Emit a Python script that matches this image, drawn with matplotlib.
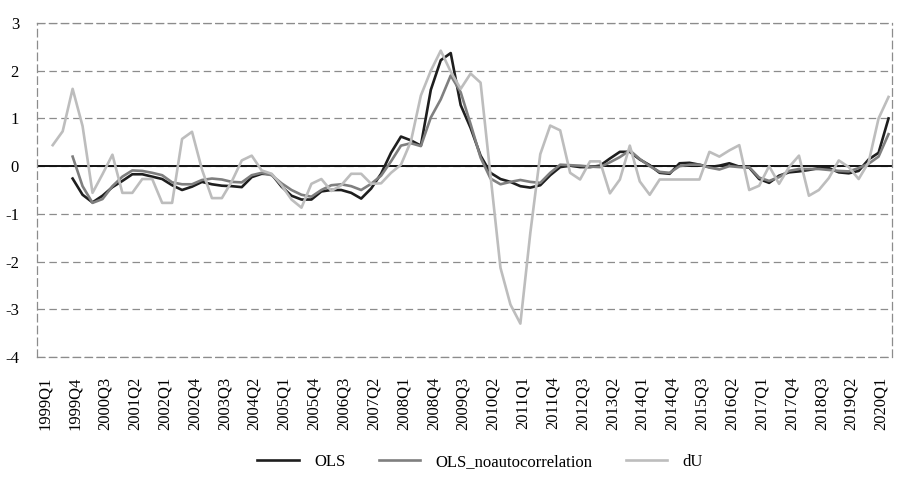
import numpy as np
import matplotlib
matplotlib.use("Agg")
import matplotlib.pyplot as plt
from matplotlib.transforms import ScaledTranslation

plt.rcParams['font.family'] = ['Liberation Serif', 'DejaVu Serif']
plt.rcParams['axes.unicode_minus'] = False

# quarters 1999Q1 .. 2020Q1
quarters = [f"{y}Q{q}" for y in range(1999, 2021) for q in range(1, 5)][:85]

ols = [np.nan, np.nan, -0.26, -0.60, -0.76, -0.62, -0.44, -0.31, -0.17, -0.17,
       -0.22, -0.27, -0.40, -0.50, -0.43, -0.33, -0.38, -0.41, -0.42, -0.44,
       -0.23, -0.16, -0.17, -0.43, -0.62, -0.70, -0.70, -0.53, -0.50, -0.50,
       -0.56, -0.68, -0.47, -0.16, 0.28, 0.62, 0.54, 0.43, 1.60, 2.22,
       2.37, 1.28, 0.80, 0.22, -0.14, -0.27, -0.33, -0.42, -0.45, -0.40,
       -0.19, -0.02, 0.01, -0.02, -0.02, 0.01, 0.16, 0.30, 0.30, 0.14,
       0.02, -0.14, -0.16, 0.06, 0.07, 0.03, -0.02, 0.01, 0.06, -0.01,
       -0.03, -0.27, -0.35, -0.20, -0.13, -0.11, -0.08, -0.04, -0.04, -0.13,
       -0.15, -0.10, 0.14, 0.28, 1.00]

ols_noac = [np.nan, np.nan, 0.20, -0.42, -0.77, -0.69, -0.42, -0.22, -0.09, -0.10,
            -0.14, -0.19, -0.34, -0.38, -0.38, -0.29, -0.26, -0.28, -0.33, -0.34,
            -0.19, -0.14, -0.19, -0.36, -0.50, -0.60, -0.64, -0.50, -0.40, -0.38,
            -0.42, -0.50, -0.37, -0.20, 0.10, 0.43, 0.48, 0.42, 1.02, 1.40,
            1.90, 1.55, 0.88, 0.18, -0.26, -0.38, -0.33, -0.29, -0.33, -0.35,
            -0.14, 0.03, 0.02, 0.01, -0.01, -0.02, 0.08, 0.19, 0.33, 0.15,
            0.00, -0.12, -0.14, 0.00, 0.03, 0.03, -0.03, -0.07, 0.00, -0.02,
            -0.02, -0.24, -0.31, -0.23, -0.10, -0.06, -0.06, -0.06, -0.08, -0.10,
            -0.11, -0.04, 0.05, 0.20, 0.67]

du = [0.44, 0.73, 1.62, 0.84, -0.56, -0.17, 0.24, -0.56, -0.56, -0.27,
      -0.27, -0.77, -0.77, 0.57, 0.72, -0.07, -0.67, -0.67, -0.32, 0.12,
      0.22, -0.09, -0.16, -0.40, -0.70, -0.87, -0.37, -0.27, -0.52, -0.40,
      -0.16, -0.16, -0.37, -0.36, -0.14, 0.03, 0.52, 1.48, 2.00, 2.42,
      1.98, 1.62, 1.94, 1.75, -0.20, -2.13, -2.90, -3.30, -1.40, 0.25,
      0.85, 0.75, -0.14, -0.28, 0.10, 0.10, -0.57, -0.28, 0.43, -0.32,
      -0.60, -0.28, -0.28, -0.28, -0.28, -0.28, 0.30, 0.20, 0.33, 0.44,
      -0.50, -0.41, 0.00, -0.37, -0.02, 0.22, -0.62, -0.50, -0.25, 0.12,
      -0.02, -0.27, 0.08, 1.00, 1.45]

x = np.arange(len(quarters))

fig = plt.figure(figsize=(9, 4.82), dpi=100)
ax = fig.add_axes([37/900, 1-357/482, 855/900, 334/482])

dash = (0, (6, 3.5))
ax.set_ylim(-4, 3)
ax.set_yticks(range(-4, 4))
ax.set_xlim(-1.58, 84.35)
ax.yaxis.grid(True, color='#8c8c8c', linestyle=dash, linewidth=0.9)
ax.set_axisbelow(True)
for s in ax.spines.values():
    s.set_color('#8c8c8c')
    s.set_linestyle(dash)
    s.set_linewidth(0.9)
ax.axhline(0, color='#111111', lw=1.4, zorder=1)

ax.plot(x, ols, color='#1e1e1e', lw=1.9, label='OLS', zorder=3)
ax.plot(x, ols_noac, color='#7f7f7f', lw=1.9, label='OLS_noautocorrelation', zorder=3)
ax.plot(x, du, color='#bdbdbd', lw=1.9, label='dU', zorder=3)

ax.set_xticks(x[::3])
ax.set_xticklabels(quarters[::3], rotation=90, fontsize=12)
ax.tick_params(axis='x', length=0, pad=14)
ax.tick_params(axis='y', length=0, pad=13, labelsize=12)
shift = ScaledTranslation(-7.5/100, 0, fig.dpi_scale_trans)
for lab in ax.get_xticklabels():
    lab.set_transform(lab.get_transform() + shift)

fig.legend(loc='center', bbox_to_anchor=(480/900, 1-462/482), ncol=3,
           frameon=False, fontsize=12, handlelength=2.5, handletextpad=0.9,
           columnspacing=2.0)

fig.savefig('out.png', dpi=100)
